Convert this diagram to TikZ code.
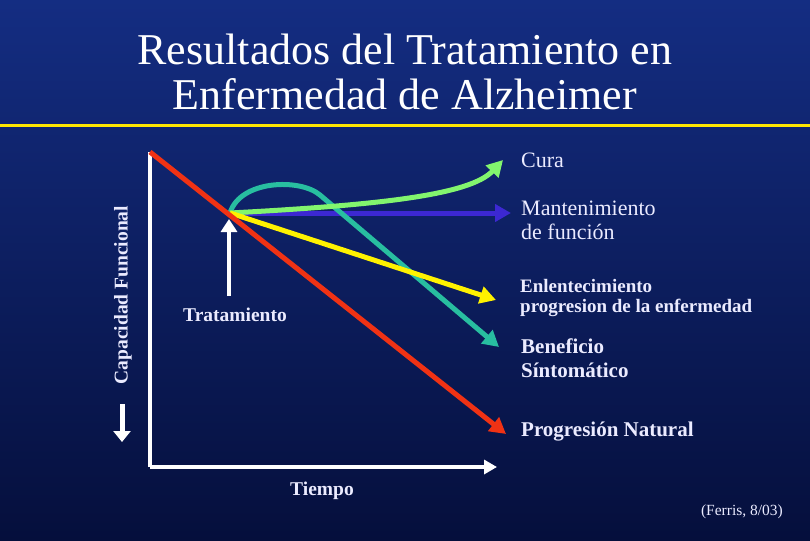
\documentclass[tikz,border=0pt]{standalone}
\usepackage{fontspec}
\setmainfont{Liberation Serif}
\usetikzlibrary{arrows.meta}
\begin{document}
\begin{tikzpicture}[x=1pt,y=-1pt,
  lbl/.style={text=white!92!blue,font=\fontsize{22}{24}\selectfont,align=left,anchor=west,inner sep=0pt},
  curve/.style={line width=5pt,-{Triangle[length=16pt,width=17pt]}}]
\useasboundingbox (0,0) rectangle (810,540);
\shade[top color={rgb,255:red,20;green,45;blue,130},bottom color={rgb,255:red,5;green,15;blue,60}] (0,0) rectangle (810,540);
\node[text=white,font=\fontsize{44}{45}\selectfont,align=center] (title) at (405,72) {Resultados del Tratamiento en\\Enfermedad de Alzheimer};
\draw[yellow!90!orange,line width=3pt] (0,126) -- (810,126);
% axes
\coordinate (orig) at (150,467);
\coordinate (ytop) at (150,152);
\coordinate (xend) at (497,467);
\draw[white,line width=3.5pt] (ytop) -- (orig);
\draw[white,line width=3.5pt,-{Triangle[length=13pt,width=14pt]}] (orig) -- (xend);
\coordinate (T) at (230,213);
% curves
\coordinate (red) at (506,434);
\coordinate (blue) at (511,213);
\coordinate (yel) at (496,300);
\coordinate (teal) at (499,347);
\coordinate (grn) at (503,160);
\draw[curve,color={rgb,255:red,60;green,40;blue,210}] (T) -- (blue);
\draw[curve,color={rgb,255:red,40;green,190;blue,160}] (T) .. controls (240,180) and (300,178) .. (320,195) -- (teal);
\draw[curve,color={rgb,255:red,130;green,245;blue,110}] (T) .. controls (380,205) and (470,195) .. (grn);
\draw[curve,color=yellow] (T) -- (yel);
\draw[curve,color={rgb,255:red,240;green,50;blue,20}] (ytop) -- (red);
\draw[white,line width=3.5pt,-{Triangle[length=13pt,width=16pt]}] (229,296) -- (229,219);
\node[lbl] (cura) at (521,160) {Cura};
\node[lbl] (mant) at (521,220) {Mantenimiento\\de función};
\node[lbl,font=\bfseries\fontsize{19}{20}\selectfont] (enl) at (520,298) {Enlentecimiento\\progresion de la enfermedad};
\node[lbl,font=\bfseries\fontsize{21}{24}\selectfont] (ben) at (521,358) {Beneficio\\Síntomático};
\node[lbl,font=\bfseries\fontsize{21}{24}\selectfont] (prog) at (521,432) {Progresión Natural};
\node[lbl,font=\bfseries\fontsize{19.5}{21}\selectfont,anchor=center] (trat) at (235,315) {Tratamiento};
\node[lbl,font=\bfseries\fontsize{19.5}{21}\selectfont,anchor=center] (tiempo) at (322,491) {Tiempo};
\node[lbl,font=\bfseries\fontsize{19.5}{21}\selectfont,anchor=center,rotate=90] (cap) at (123,295) {Capacidad Funcional};
\draw[white,line width=5pt,-{Triangle[length=11pt,width=17pt]}] (122,404) -- (122,442);
\node[lbl,font=\fontsize{15.5}{17}\selectfont,anchor=east] (ref) at (783,512) {(Ferris, 8/03)};
\end{tikzpicture}
\end{document}
